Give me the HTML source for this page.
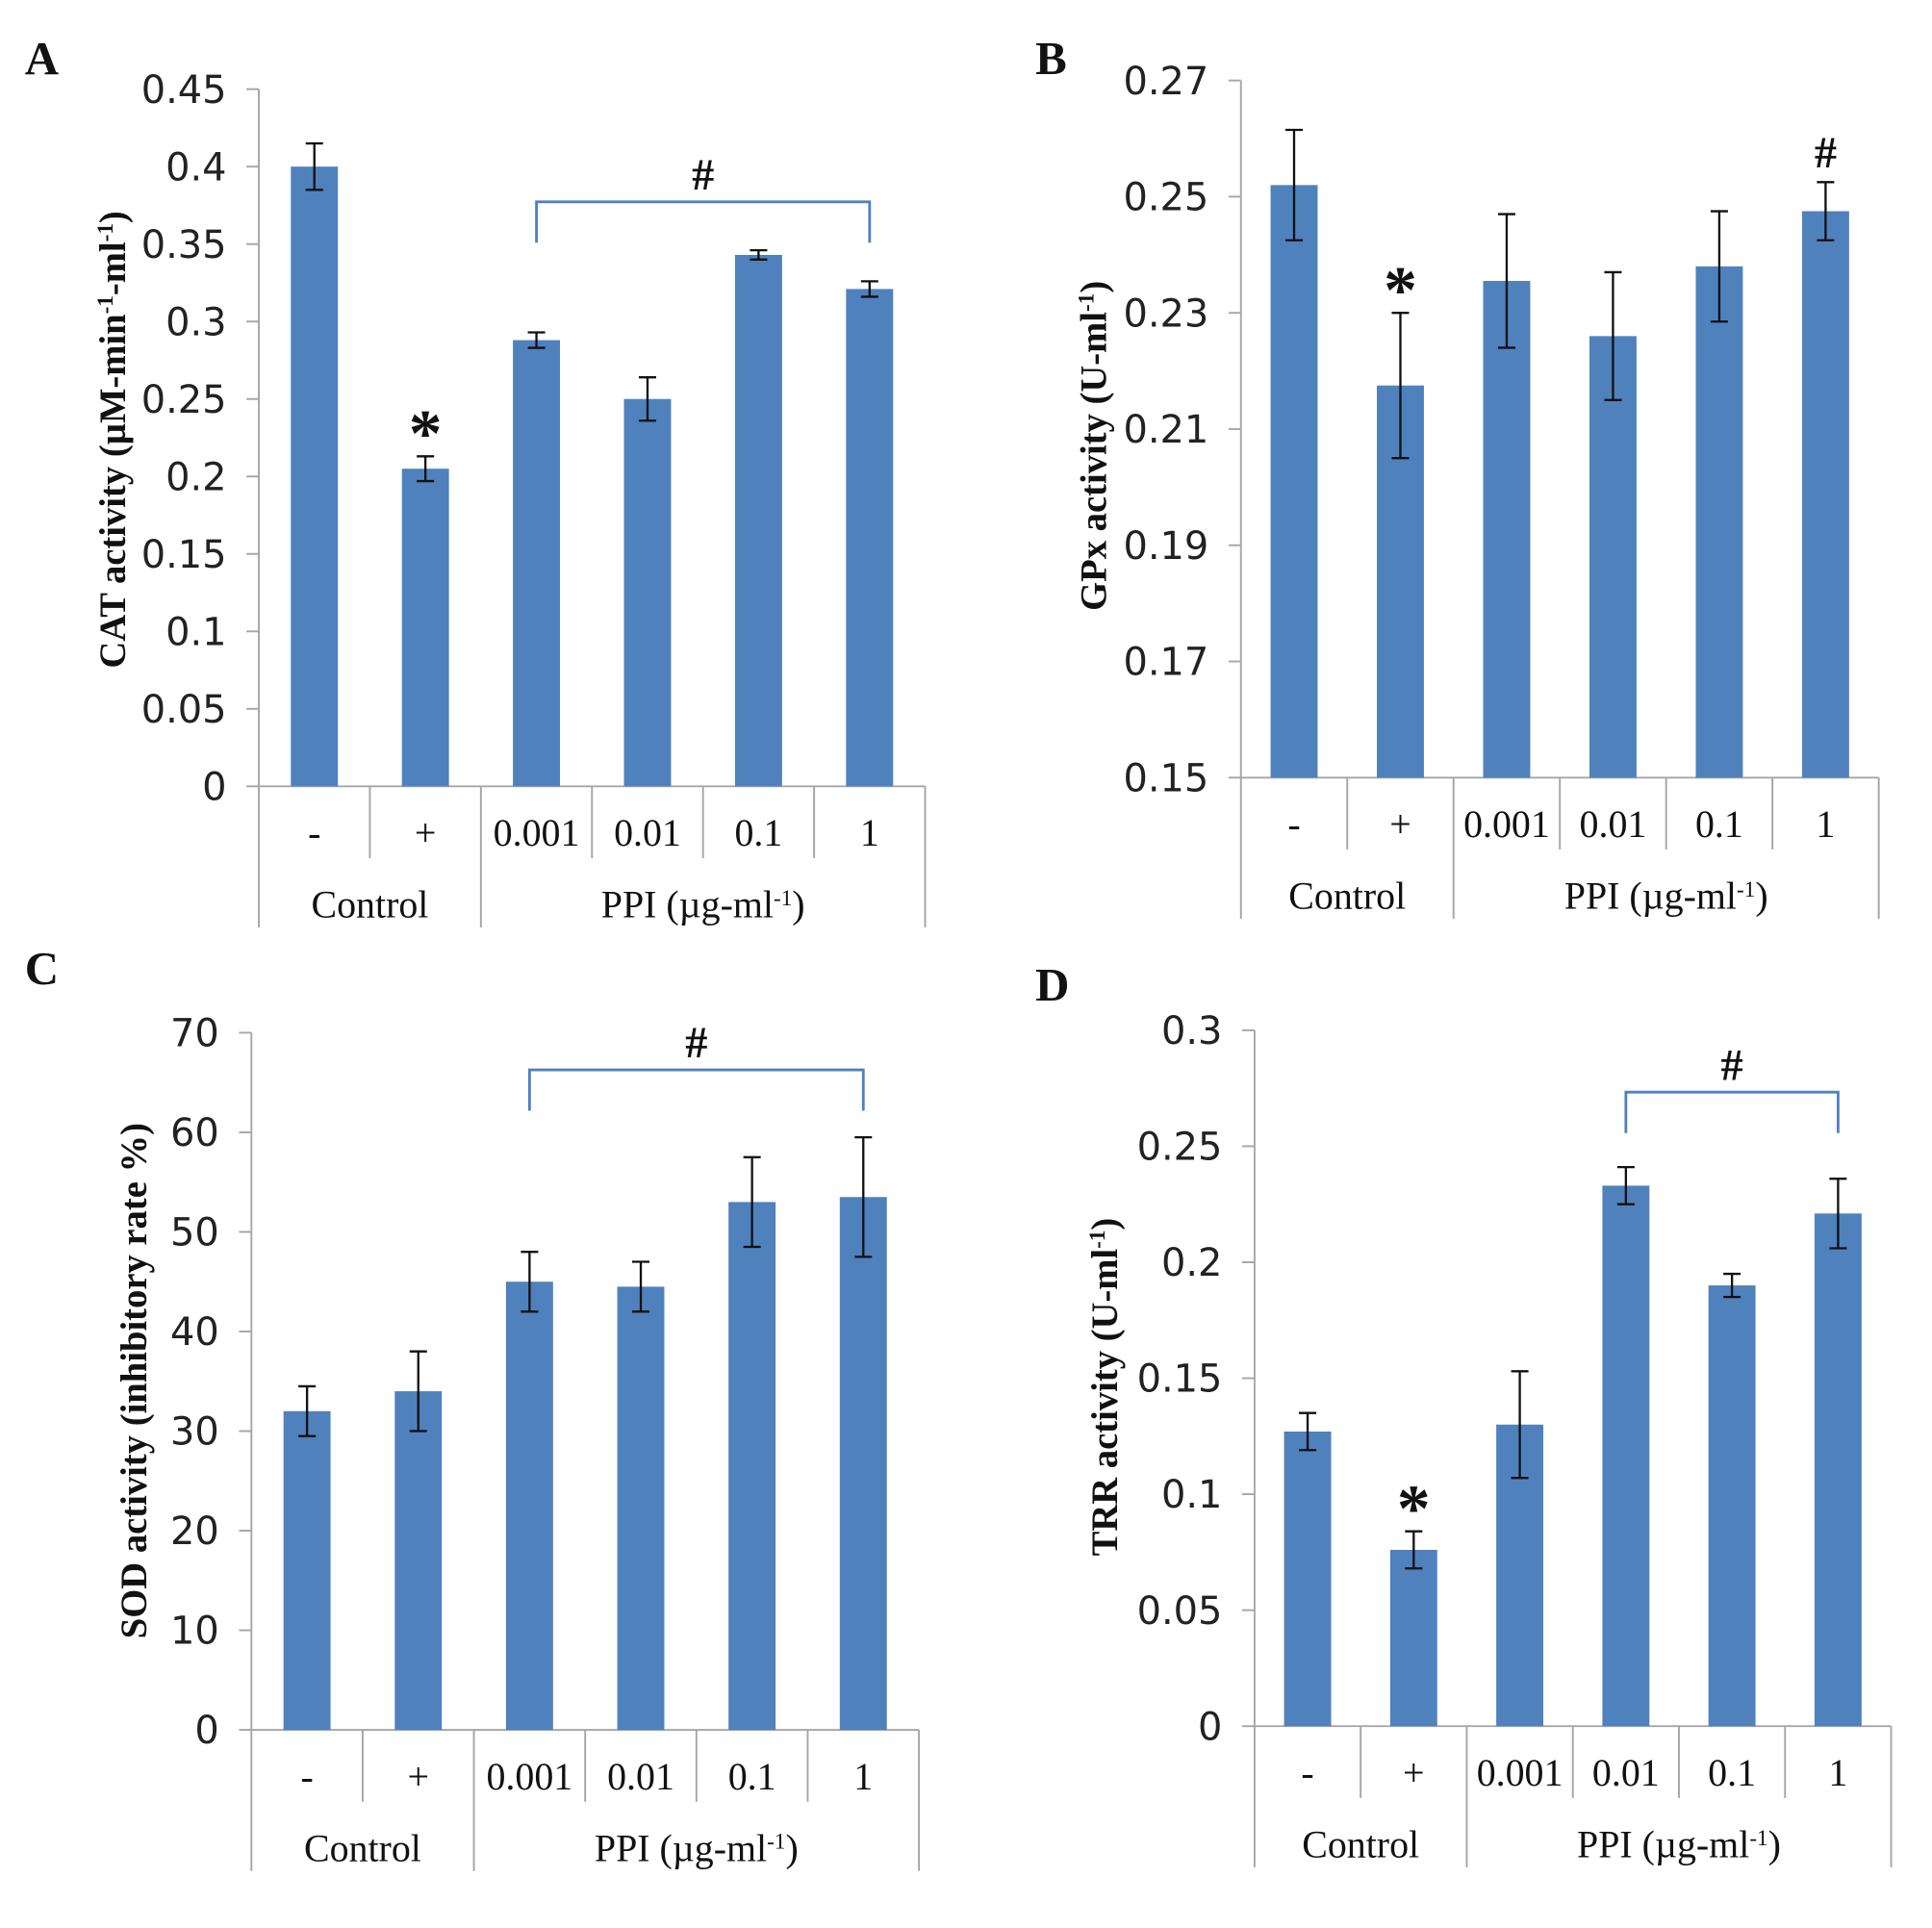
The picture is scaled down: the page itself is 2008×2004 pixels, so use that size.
<!DOCTYPE html>
<html><head><meta charset="utf-8"><style>
html,body{margin:0;padding:0;background:#fff;}
svg{display:block;}
.tick{font-family:"DejaVu Sans","Liberation Sans",sans-serif;font-size:31px;fill:#222;}
.cat{font-family:"Liberation Serif",serif;font-size:31px;fill:#111;}
.ylab{font-family:"Liberation Serif",serif;font-size:30px;font-weight:bold;fill:#111;}
.panel{font-family:"Liberation Serif",serif;font-size:38px;font-weight:bold;fill:#111;}
.mark{font-family:"Liberation Serif",serif;font-weight:bold;fill:#111;}
</style></head><body>
<svg id="fig" width="2008" height="2004" viewBox="0 0 1560 1557" preserveAspectRatio="none" xmlns="http://www.w3.org/2000/svg"></svg>
<script>
const categories = ['-', '+', '0.001', '0.01', '0.1', '1'];
const catValues = [0.40, 0.205, 0.288, 0.25, 0.343, 0.321];
const catErrors = [0.015, 0.008, 0.005, 0.014, 0.003, 0.005];
const catTicks = ['0', '0.05', '0.1', '0.15', '0.2', '0.25', '0.3', '0.35', '0.4', '0.45'];
const gpxValues = [0.252, 0.2175, 0.2355, 0.226, 0.238, 0.2475];
const gpxErrors = [0.0095, 0.0125, 0.0115, 0.011, 0.0095, 0.005];
const gpxTicks = ['0.15', '0.17', '0.19', '0.21', '0.23', '0.25', '0.27'];
const sodValues = [32, 34, 45, 44.5, 53, 53.5];
const sodErrors = [2.5, 4, 3, 2.5, 4.5, 6];
const sodTicks = ['0', '10', '20', '30', '40', '50', '60', '70'];
const trrValues = [0.127, 0.076, 0.130, 0.233, 0.190, 0.221];
const trrErrors = [0.008, 0.008, 0.023, 0.008, 0.005, 0.015];
const trrTicks = ['0', '0.05', '0.1', '0.15', '0.2', '0.25', '0.3'];

const NS = 'http://www.w3.org/2000/svg';
const svg = document.getElementById('fig');
function mk(tag, attrs, parent, text) {
  const e = document.createElementNS(NS, tag);
  for (const k in attrs) e.setAttribute(k, attrs[k]);
  if (text !== undefined) e.textContent = text;
  (parent || svg).appendChild(e);
  return e;
}

function panel(cfg) {
  const g = mk('g', {});
  
  
  const ymin = parseFloat(cfg.ticks[0]), ymax = parseFloat(cfg.ticks[cfg.ticks.length - 1]);
  const y = v => cfg.y0 - (v - ymin) / (ymax - ymin) * (cfg.y0 - cfg.yTop);
  const cw = (cfg.xR - cfg.x0) / categories.length;
  const xc = i => cfg.x0 + cw * (i + 0.5);
  const grey = '#a6a6a6';
  let e = mk('line', {x1: cfg.x0, y1: cfg.yTop, x2: cfg.x0, y2: cfg.y0, stroke: grey, 'stroke-width': 1.5}, g);
   
  cfg.ticks.forEach(t => {
    const v = parseFloat(t), yy = y(v);
    mk('line', {x1: cfg.x0 - 10, y1: yy, x2: cfg.x0, y2: yy, stroke: grey, 'stroke-width': 1.5}, g);
    const tl = mk('text', {x: cfg.x0 - 26, y: yy + 11, 'text-anchor': 'end', class: 'tick'}, g, t);
    
    
  });
  e = mk('line', {x1: cfg.x0, y1: cfg.y0, x2: cfg.xR, y2: cfg.y0, stroke: grey, 'stroke-width': 1.5}, g);
   
  const yb = cfg.y0 + 114, ym = cfg.y0 + 58;
  for (let i = 0; i <= categories.length; i++) {
    const xx = cfg.x0 + cw * i;
    const full = (i === 0 || i === 2 || i === 6);
    mk('line', {x1: xx, y1: cfg.y0, x2: xx, y2: full ? yb : ym, stroke: grey, 'stroke-width': 1.5}, g);
  }
  categories.forEach((c, i) => {
    const t = mk('text', {x: xc(i), y: cfg.y0 + 48, 'text-anchor': 'middle', class: 'cat'}, g, c);
    
    
  });
  let t = mk('text', {x: cfg.x0 + cw, y: cfg.y0 + 106, 'text-anchor': 'middle', class: 'cat'}, g, 'Control');
   
  t = mk('text', {x: cfg.x0 + cw * 4, y: cfg.y0 + 106, 'text-anchor': 'middle', class: 'cat'}, g);
   
  t.innerHTML = 'PPI (µg-ml<tspan dy="-10" font-size="18">-1</tspan><tspan dy="10">)</tspan>';
  const bw = 38;
  cfg.values.forEach((v, i) => {
    const b = mk('rect', {x: xc(i) - bw / 2, y: y(v), width: bw, height: cfg.y0 - y(v), fill: '#4f81bd'}, g);
    
    
    const hi = y(v + cfg.errors[i]), lo = y(v - cfg.errors[i]);
    const eb = mk('path', {d: `M${xc(i)} ${hi}V${lo}M${xc(i) - 7} ${hi}H${xc(i) + 7}M${xc(i) - 7} ${lo}H${xc(i) + 7}`, stroke: '#111', 'stroke-width': 1.8, fill: 'none'}, g);
    
    
    if (cfg.star === i) {
      const s = mk('text', {x: xc(i), y: hi - 2, 'text-anchor': 'middle', class: 'mark', 'font-size': 54}, g, '*');
      s.setAttribute('dy', '0.55em'); s.setAttribute('transform', `translate(0,-28)`);
       
    }
    if (cfg.hashBar === i) {
      const h = mk('text', {x: xc(i), y: hi - 12, 'text-anchor': 'middle', class: 'mark', 'font-size': 36}, g, '#');
       
    }
  });
  if (cfg.bracket) {
    const [a, b2, by] = cfg.bracket;
    const br = mk('path', {d: `M${xc(a)} ${by + 33}V${by}H${xc(b2)}V${by + 33}`, stroke: '#4f81bd', 'stroke-width': 2.2, fill: 'none'}, g);
     
    const h = mk('text', {x: (xc(a) + xc(b2)) / 2, y: by - 10, 'text-anchor': 'middle', class: 'mark', 'font-size': 36}, g, '#');
     
  }
  const yl = mk('text', {x: 0, y: 0, 'text-anchor': 'middle', class: 'ylab', transform: `translate(${cfg.ylx},${cfg.yly}) rotate(-90)`}, g);
   
  yl.innerHTML = cfg.ylab;
  const pl = mk('text', {x: cfg.px, y: cfg.py, class: 'panel'}, g, cfg.letter);
   
}

const sup = s => `<tspan dy="-10" font-size="18">${s}</tspan><tspan dy="10">`;
panel({name: 'panel-a-cat', letter: 'A', px: 20, py: 60, x0: 209, xR: 747, y0: 635, yTop: 72, ticks: catTicks, values: catValues, errors: catErrors, star: 1, bracket: [2, 5, 163], ylx: 101, yly: 355,
  ylab: 'CAT activity (µM-min' + sup('-1') + '-ml' + sup('-1') + ')</tspan></tspan>'});
panel({name: 'panel-b-gpx', letter: 'B', px: 836, py: 60, x0: 1002, xR: 1517, y0: 628, yTop: 65, ticks: gpxTicks, values: gpxValues, errors: gpxErrors, star: 1, hashBar: 5, ylx: 893, yly: 360,
  ylab: 'GPx activity (U-ml' + sup('-1') + ')</tspan>'});
panel({name: 'panel-c-sod', letter: 'C', px: 20, py: 795, x0: 203, xR: 742, y0: 1397, yTop: 834, ticks: sodTicks, values: sodValues, errors: sodErrors, bracket: [2, 5, 864], ylx: 118, yly: 1115,
  ylab: 'SOD activity (inhibitory rate %)'});
panel({name: 'panel-d-trr', letter: 'D', px: 836, py: 808, x0: 1013, xR: 1527, y0: 1394, yTop: 832, ticks: trrTicks, values: trrValues, errors: trrErrors, star: 1, bracket: [3, 5, 882], ylx: 902, yly: 1120,
  ylab: 'TRR activity (U-ml' + sup('-1') + ')</tspan>'});
</script>
</body></html>
